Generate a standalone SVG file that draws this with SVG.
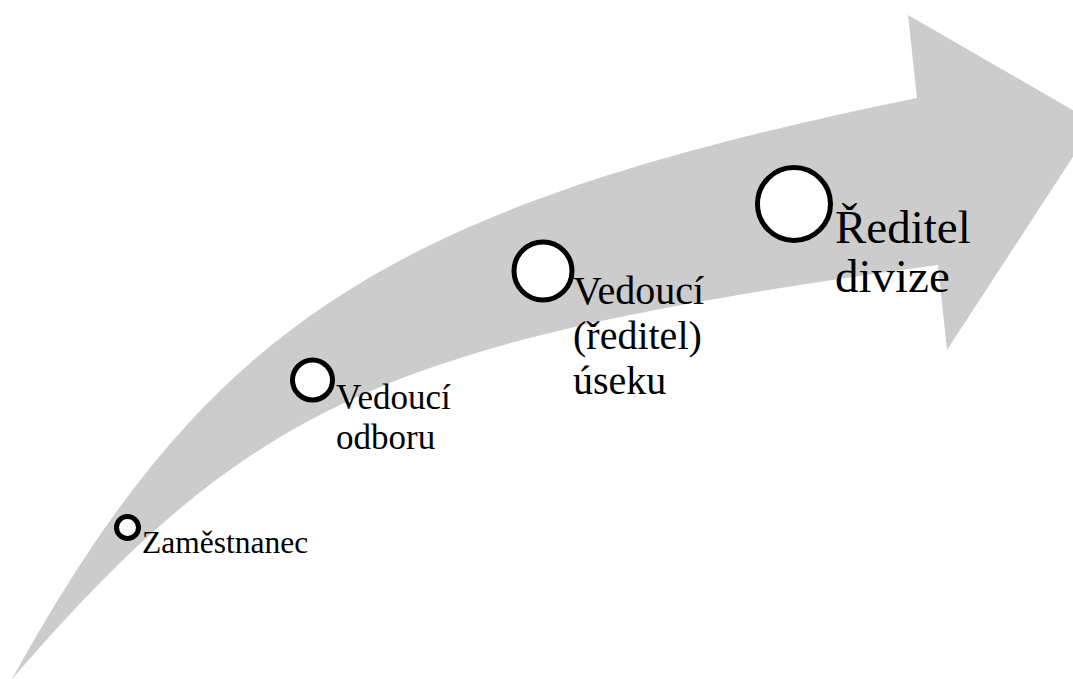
<svg xmlns="http://www.w3.org/2000/svg" width="1073" height="679" viewBox="0 0 1073 679">
  <style>
    .band { fill: #cccccc; stroke: none; }
    .dot { fill: #ffffff; stroke: #000000; stroke-width: 5; }
    text { font-family: 'Liberation Serif', 'DejaVu Serif', serif; fill: #000000; }
  </style>
  <rect width="1073" height="679" fill="#ffffff"/>

  <!-- curved upward arrow behind the steps -->
  <g id="arrow">
    <path class="band" d="M12,679 C253,401 389,340 938,265 L947,350 L1095,123 L908,15 L917,98 C390,206 209,322 12,679 Z"/>
  </g>

  <!-- empty: the steps are placed along the arrow, no separate connectors -->
  <g id="connectors"></g>

  <g id="step1">
    <circle class="dot" cx="127.5" cy="527.5" r="11"/>
    <text x="142" y="553" font-family="Liberation Serif, serif" font-size="31.5">Zaměstnanec</text>
  </g>

  <g id="step2">
    <circle class="dot" cx="312.5" cy="380" r="20"/>
    <text font-family="Liberation Serif, serif" font-size="35">
      <tspan x="336" y="409">Vedoucí</tspan>
      <tspan x="336" y="449">odboru</tspan>
    </text>
  </g>

  <g id="step3">
    <circle class="dot" cx="543" cy="271" r="29"/>
    <text font-family="Liberation Serif, serif" font-size="40">
      <tspan x="573" y="304">Vedoucí</tspan>
      <tspan x="573" y="349">(ředitel)</tspan>
      <tspan x="573" y="394">úseku</tspan>
    </text>
  </g>

  <g id="step4">
    <circle class="dot" cx="794" cy="204" r="36.5"/>
    <text font-family="Liberation Serif, serif" font-size="47">
      <tspan x="835" y="243">Ředitel</tspan>
      <tspan x="835" y="292">divize</tspan>
    </text>
  </g>
</svg>
